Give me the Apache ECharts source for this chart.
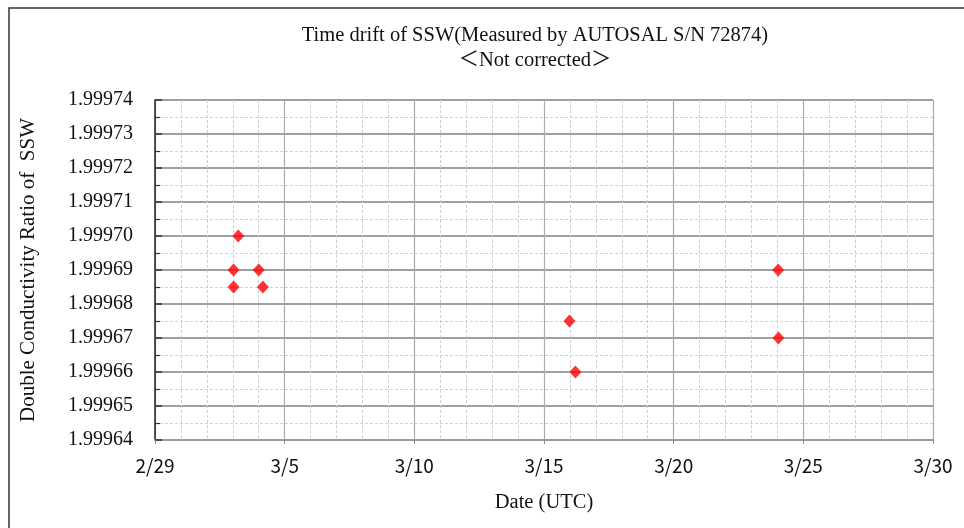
<!DOCTYPE html>
<html>
<head>
<meta charset="utf-8">
<script src="https://cdn.jsdelivr.net/npm/echarts@6/dist/echarts.min.js"></script>
<style>
  html, body { margin: 0; padding: 0; background: #fff; }
  #chart { width: 964px; height: 528px; }
</style>
</head>
<body>
<div id="chart"></div>
<script>
// Measurement day, counted in days from 2/29 (UTC)
const dayOffsets = [3.21, 3.03, 4.00, 3.03, 4.16, 15.98, 16.21, 24.03, 24.04];
// Double conductivity ratio of SSW for each measurement
const ratios = [1.99970, 1.99969, 1.99969, 1.999685, 1.999685, 1.999675, 1.99966, 1.99969, 1.99967];
// Date tick labels, one per 5 days
const dateLabels = ['2/29', '3/5', '3/10', '3/15', '3/20', '3/25', '3/30'];
// Ratio tick labels
const ratioTicks = ['1.99964', '1.99965', '1.99966', '1.99967', '1.99968', '1.99969', '1.99970', '1.99971', '1.99972', '1.99973', '1.99974'];

const serif = '"Liberation Serif", "Noto Sans CJK JP", "Times New Roman", serif';
const points = dayOffsets.map((d, i) => [d, ratios[i]]);

const chart = echarts.init(document.getElementById('chart'));
chart.setOption({
  backgroundColor: '#fff',
  animation: false,
  graphic: [{
    type: 'rect',
    shape: { x: 9, y: 8, width: 1000, height: 600 },
    style: { fill: 'none', stroke: '#333', lineWidth: 1.5 },
    silent: true
  }],
  title: {
    text: 'Time drift of SSW(Measured by AUTOSAL S/N 72874)\n＜Not corrected＞',
    left: 530,
    top: 18,
    textAlign: 'center',
    textStyle: { fontFamily: serif, fontSize: 20.5, fontWeight: 'normal', color: '#111', lineHeight: 25 }
  },
  grid: { left: 155, right: 31, top: 100, bottom: 88, containLabel: false },
  xAxis: {
    type: 'value',
    min: 0,
    max: 30,
    interval: 5,
    name: 'Date (UTC)',
    nameLocation: 'middle',
    nameGap: 52,
    nameTextStyle: { fontFamily: serif, fontSize: 20.5, color: '#111' },
    axisLine: { show: true, lineStyle: { color: '#9a9a9a', width: 2 } },
    axisTick: { show: true, length: 4, lineStyle: { color: '#888' } },
    axisLabel: {
      margin: 16,
      fontFamily: '"Noto Sans CJK JP", "Noto Sans", sans-serif',
      fontSize: 19,
      color: '#111',
      formatter: v => dateLabels[Math.round(v / 5)]
    },
    splitLine: { show: true, lineStyle: { color: '#ababab', width: 1.2 } },
    minorTick: { show: false, splitNumber: 5 },
    minorSplitLine: { show: true, lineStyle: { color: '#cfcfcf', width: 1, type: [3, 2] } }
  },
  yAxis: {
    type: 'value',
    min: 1.99964,
    max: 1.99974,
    interval: 0.00001,
    name: 'Double Conductivity Ratio of  SSW',
    nameLocation: 'middle',
    nameGap: 116,
    nameRotate: 90,
    nameTextStyle: { fontFamily: serif, fontSize: 21, color: '#111' },
    axisLine: { show: true, lineStyle: { color: '#222', width: 1.5 } },
    axisTick: { show: true, inside: true, length: 7, lineStyle: { color: '#333', width: 1.5 } },
    minorTick: { show: true, splitNumber: 2, length: 5, lineStyle: { color: '#333', width: 1.2 } },
    axisLabel: {
      margin: 22,
      fontFamily: serif,
      fontSize: 20,
      color: '#111',
      formatter: v => ratioTicks[Math.round((v - 1.99964) / 0.00001)]
    },
    splitLine: { show: true, lineStyle: { color: '#a0a0a0', width: 2 } },
    minorSplitLine: { show: true, lineStyle: { color: '#d2d2d2', width: 1, type: [3, 2] } }
  },
  series: [{
    type: 'scatter',
    data: points,
    symbol: 'diamond',
    symbolSize: [12, 13],
    itemStyle: { color: '#ff0000' },
    z: 5
  }]
});
</script>
</body>
</html>
